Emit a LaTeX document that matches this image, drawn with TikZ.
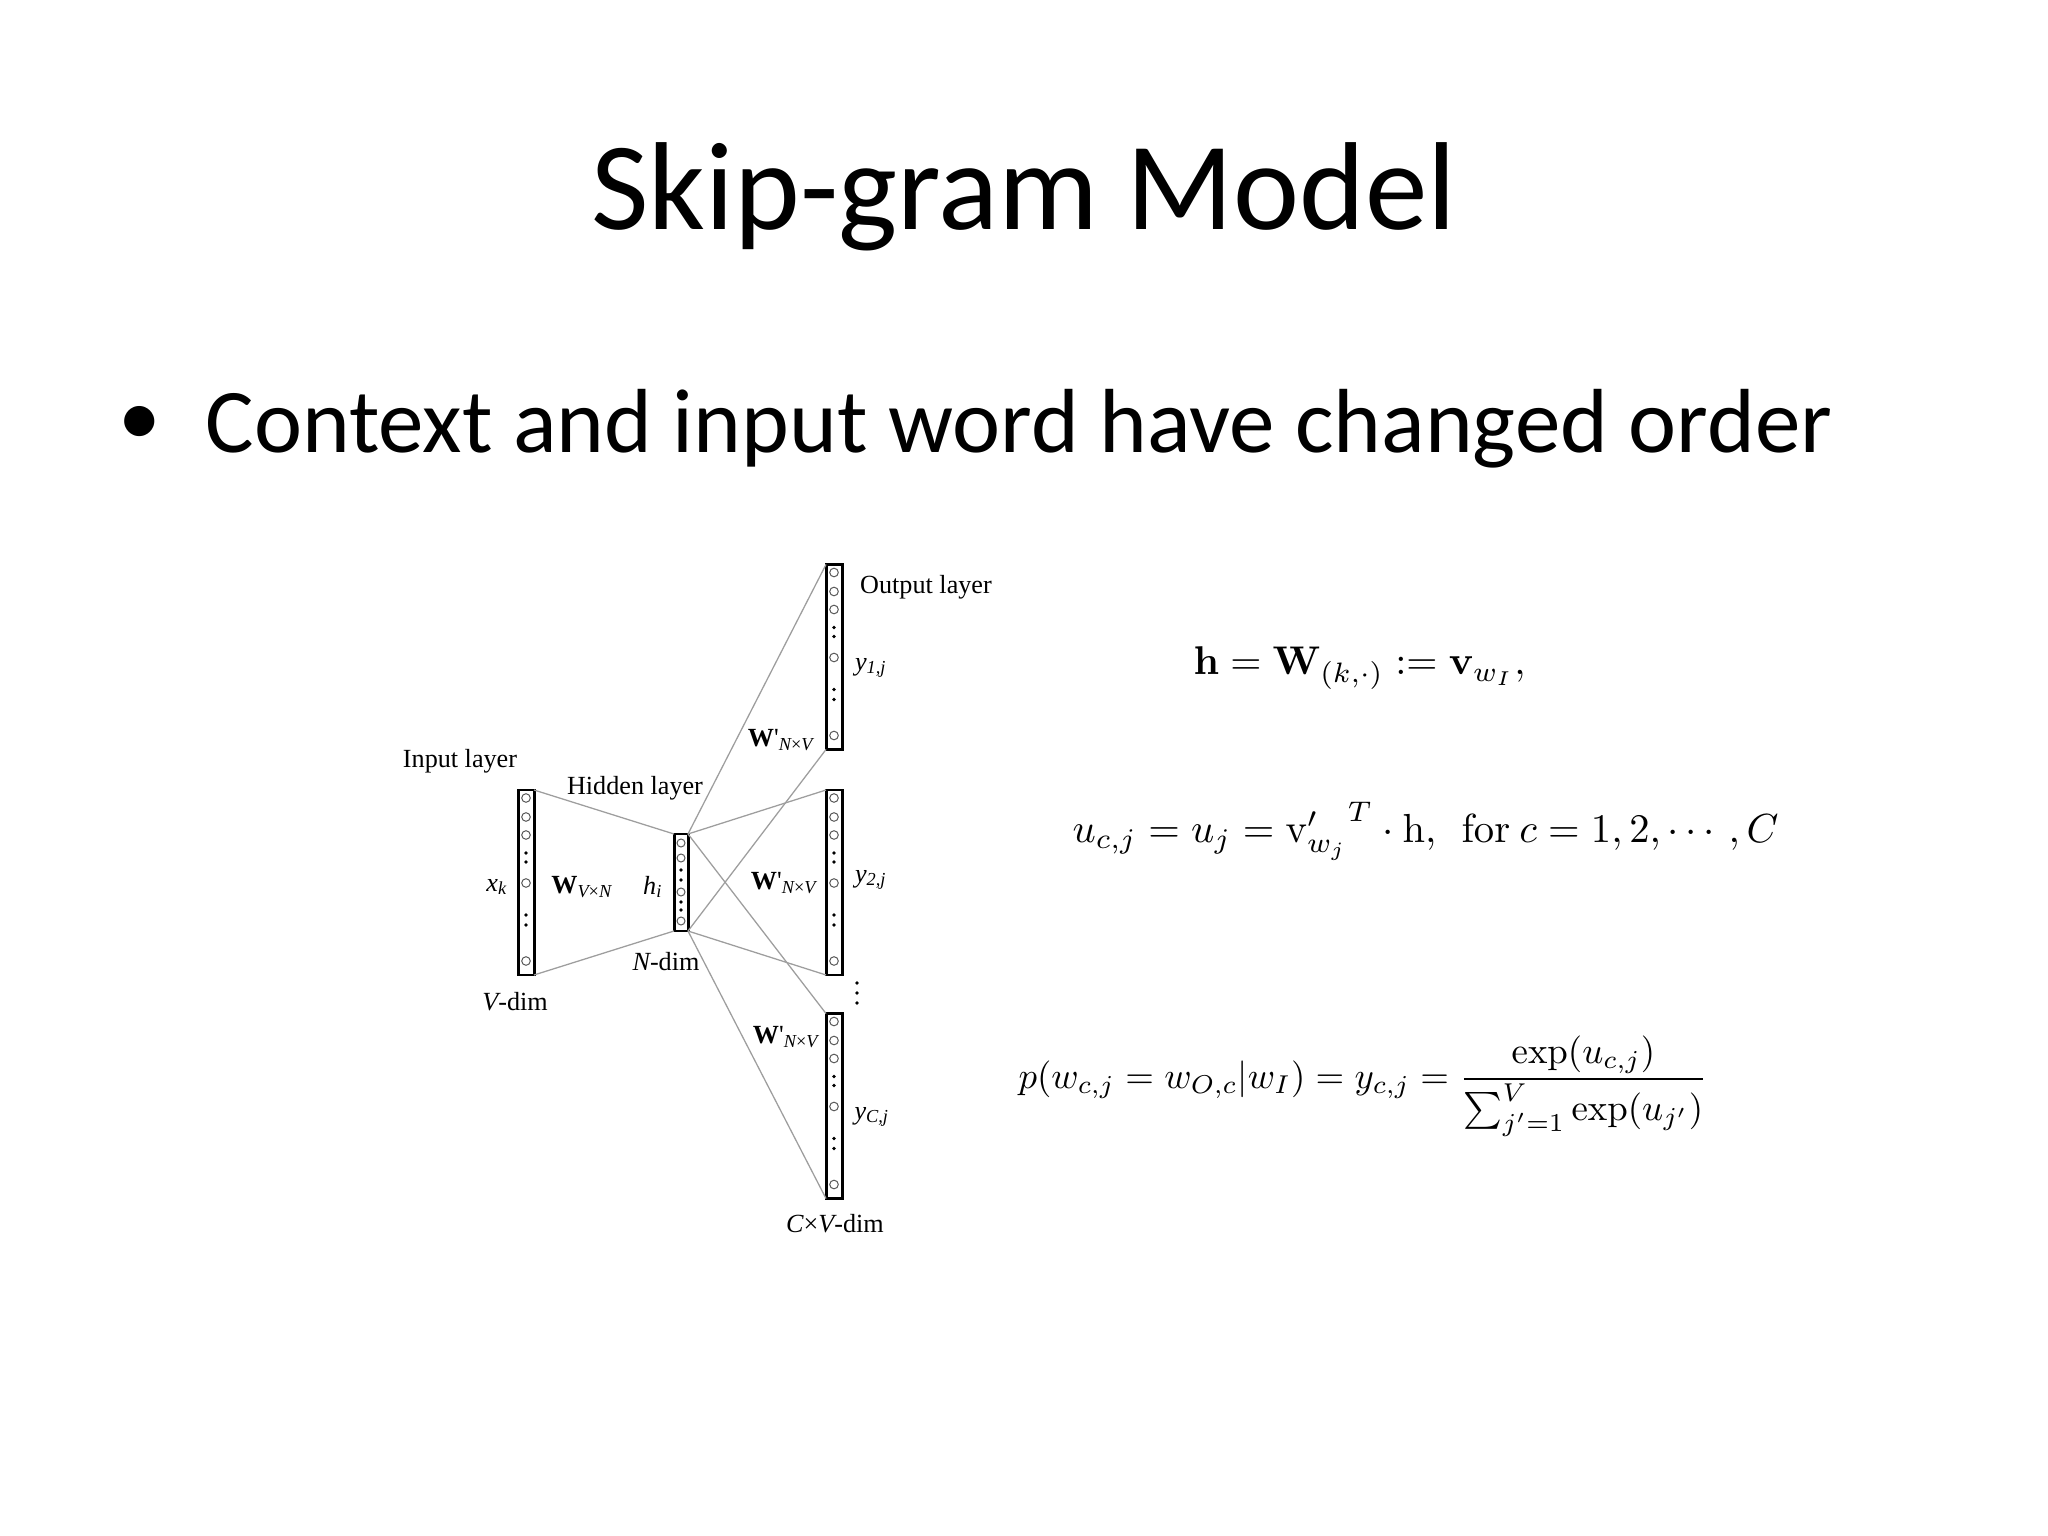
\documentclass[tikz,border=0pt]{standalone}
\usepackage{amsmath}
\usepackage{graphicx}
\usepackage[no-math]{fontspec}
\setmainfont{Carlito}
\newfontfamily\timesf{Liberation Serif}
\newdimen\pxu \pxu=0.3515625pt
\definecolor{wirecol}{gray}{0.62}
\definecolor{cellcol}{gray}{0.35}
\newcommand\fillcolumn[1]{%
  \foreach \yy in {8,27,45,93,171}
    \draw[cellc] ([yshift=-\yy\pxu]#1.north) circle[radius=4.3\pxu];
  \foreach \yy in {63,72,125,135}
    \fill ([yshift=-\yy\pxu]#1.north) circle[radius=1.8\pxu];
}
\begin{document}
\begin{tikzpicture}[x=0.3515625pt, y=-0.3515625pt,
  layerbox/.style={draw=black, line width=1.05pt, inner sep=0pt, outer sep=0pt,
                   minimum width=16\pxu, minimum height=185\pxu},
  hidbox/.style={layerbox, minimum width=14\pxu, minimum height=97\pxu},
  wire/.style={draw=wirecol, line width=0.45pt},
  cellc/.style={draw=cellcol, line width=0.35pt},
  lbl/.style={font=\timesf\fontsize{9.2}{11}\selectfont, inner sep=0pt},
  eqn/.style={inner sep=0pt, anchor=base west}]
\useasboundingbox (0,0) rectangle (2048,1536);

% title and bullet
\node[anchor=base, inner sep=0pt, font=\fontsize{44}{52}\selectfont] (title) at (1024,230) {Skip-gram Model};
\node[anchor=base west, inner sep=0pt, font=\fontsize{30}{36}\selectfont] (bullet) at (118,446) {•};
\node[anchor=base west, inner sep=0pt, font=\fontsize{32}{38}\selectfont] (point) at (205,453) {Context and input word have changed order};

% layers
\node[layerbox] (in1) at (526,882.5) {};
\node[hidbox] (hid) at (681,882.5) {};
\node[layerbox] (out1) at (834,657) {};
\node[layerbox] (out2) at (834,882.5) {};
\node[layerbox] (out3) at (834,1106) {};

% connections
\draw[wire] (in1.north east) -- (hid.north west);
\draw[wire] (in1.south east) -- (hid.south west);
\foreach \o in {out1,out2,out3} {
  \draw[wire] (hid.north east) -- (\o.north west);
  \draw[wire] (hid.south east) -- (\o.south west);
}

% neurons
\fillcolumn{in1}
\fillcolumn{out1}
\fillcolumn{out2}
\fillcolumn{out3}
\foreach \yy in {9,24,58,87}
  \draw[cellc] ([yshift=-\yy\pxu]hid.north) circle[radius=4\pxu];
\foreach \yy in {36,46,68,76}
  \fill ([yshift=-\yy\pxu]hid.north) circle[radius=1.8\pxu];
\foreach \yy in {983,993,1003}
  \fill (857,\yy) circle[radius=1.8\pxu];

% diagram labels
\node[lbl] (linput) at (460,761) {Input layer};
\node[lbl] (lhidden) at (635,788) {Hidden layer};
\node[lbl] (loutput) at (926,587) {Output layer};
\node[lbl] (lxk) at (497,887) {\itshape x\textsubscript{k}};
\node[lbl] (lw) at (582,887) {\textbf{W}\textsubscript{\itshape V\upshape ×\itshape N}};
\node[lbl] (lhi) at (653,887) {\itshape h\textsubscript{i}};
\node[lbl] (lndim) at (666,962) {{\itshape N}-dim};
\node[lbl] (lvdim) at (515,1002) {{\itshape V}-dim};
\node[lbl] (lw1) at (781,740) {\textbf{W}'\textsubscript{\itshape N\upshape ×\itshape V}};
\node[lbl] (lw2) at (784,883) {\textbf{W}'\textsubscript{\itshape N\upshape ×\itshape V}};
\node[lbl] (lw3) at (786,1037) {\textbf{W}'\textsubscript{\itshape N\upshape ×\itshape V}};
\node[lbl] (ly1) at (871,668) {\itshape y\textsubscript{1,j}};
\node[lbl] (ly2) at (871,880) {\itshape y\textsubscript{2,j}};
\node[lbl] (lyc) at (872,1117) {\itshape y\textsubscript{C,j}};
\node[lbl] (lcvdim) at (835,1224) {{\itshape C}×{\itshape V}-dim};

% equations
\node[eqn] (eq1) at (1193,675) {\resizebox{116.7pt}{!}{$\mathbf{h} = \mathbf{W}_{(k,\cdot)} := \mathbf{v}_{w_I},$}};
\node[eqn] (eq2) at (1072,842) {\resizebox{248.2pt}{!}{$u_{c,j} = u_j = {\mathrm{v}'_{w_j}}^{T} \cdot \mathrm{h},\ \ \mathrm{for}\ c = 1, 2, \cdots, C$}};
\node[eqn] (eq3) at (1018,1088) {\resizebox{242.2pt}{!}{$\displaystyle p(w_{c,j} = w_{O,c}|w_I) = y_{c,j} = \frac{\exp(u_{c,j})}{\sum_{j'=1}^{V}\exp(u_{j'})}$}};
\end{tikzpicture}
\end{document}
